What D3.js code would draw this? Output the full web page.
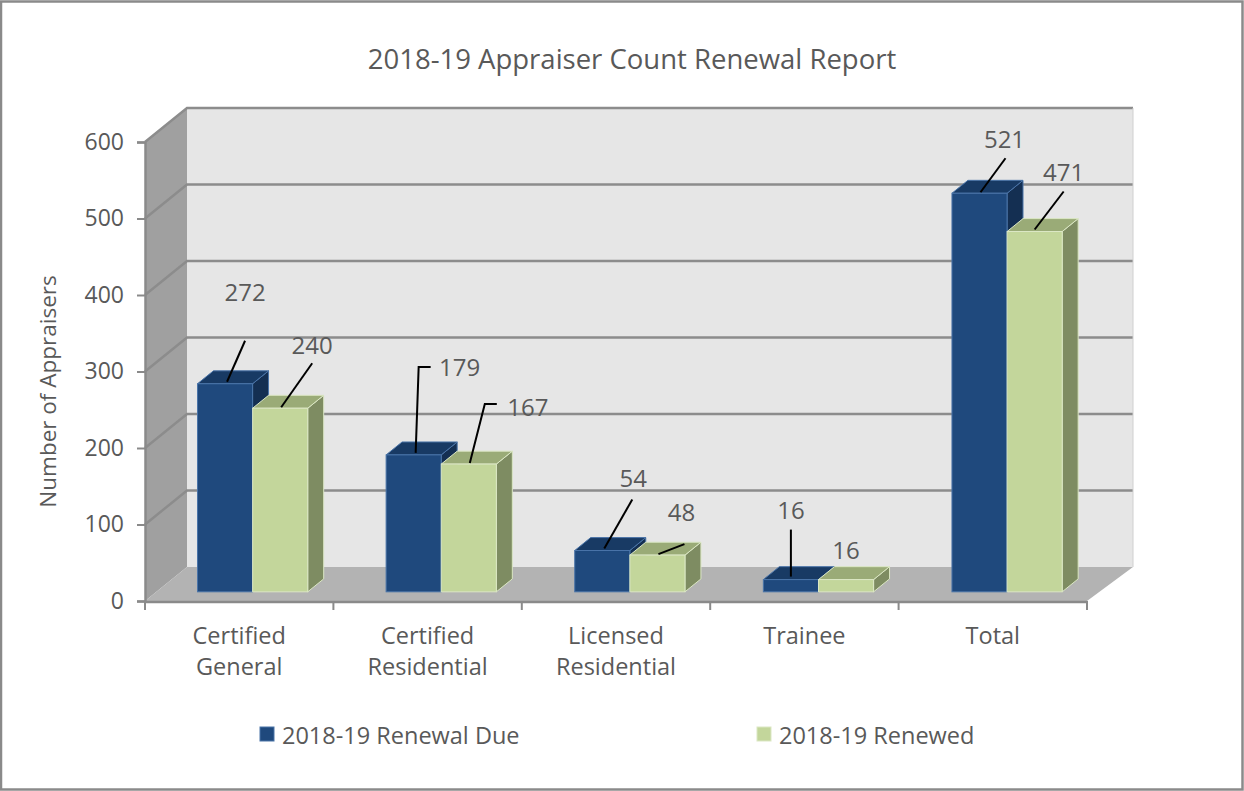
<!DOCTYPE html>
<html>
<head>
<meta charset="utf-8">
<script src="https://cdn.jsdelivr.net/npm/d3@7"></script>
<style>
  body { margin: 0; background: #fff; }
  svg { display: block; font-family: "Open Sans", sans-serif; }
</style>
</head>
<body>
<div id="chart"></div>
<script>
// podaci
const categories = [["Certified", "General"], ["Certified", "Residential"], ["Licensed", "Residential"], ["Trainee"], ["Total"]];
const seriesNames = ["2018-19 Renewal Due", "2018-19 Renewed"];
const renewalDue = [272, 179, 54, 16, 521];
const renewed = [240, 167, 48, 16, 471];
const yTicks = [0, 100, 200, 300, 400, 500, 600];

// pomaci oznaka (tekst i linija) u odnosu na vrh stupca
const labelLayout = [
  [{ t: [20, -92], l: [[2, -2], [20, -43]] }, { t: [32, -64], l: [[1, -1], [32, -45]] }],
  [{ t: [46, -88], l: [[2, -2], [5, -88], [17, -88]] }, { t: [59, -58], l: [[1, -1], [16, -60], [28, -60]] }],
  [{ t: [31, -73], l: [[2, -2], [30, -51]] }, { t: [24, -44], l: [[1, -1], [27, -11]] }],
  [{ t: [0, -70], l: [[0, -3], [0, -50]] }, { t: [0, -30], l: null }],
  [{ t: [25, -55], l: [[1, -1], [26, -35]] }, { t: [29, -60], l: [[0, -2], [29, -40]] }]
];

const dim = { width: 1244, height: 791, left: 145, right: 1087, top: 142, bottom: 601 };
const depth = { dx: 42, dy: 34, f0: 0.27, f1: 0.65 };

const svg = d3.select("#chart").append("svg")
  .attr("width", dim.width).attr("height", dim.height);

// okvir
svg.append("rect").attr("x", 1).attr("y", 1.5)
  .attr("width", dim.width - 2.5).attr("height", dim.height - 3)
  .attr("fill", "#fff").attr("stroke", "#8a8a8a").attr("stroke-width", 2.5);

const y = d3.scaleLinear().domain([0, 600]).range([dim.bottom, dim.top]);
const x0 = d3.scaleBand().domain(d3.range(categories.length)).range([dim.left, dim.right]);
const x1 = d3.scaleBand().domain([0, 1]).range([2, x0.bandwidth() + 2]).paddingOuter(0.71);

// dubinski pomak
const shiftX = (xf, f) => f * (depth.dx + 4 * (xf - dim.left) / (dim.right - dim.left));
const P = (xf, yf, f) => [xf + shiftX(xf, f), yf - f * depth.dy];
const poly = pts => pts.map(p => p.join(",")).join(" ");

// zidovi
svg.append("polygon")
  .attr("points", poly([P(dim.left, y(600), 1), P(dim.right, y(600), 1), P(dim.right, y(0), 1), P(dim.left, y(0), 1)]))
  .attr("fill", "#e6e6e6");
svg.append("polygon")
  .attr("points", poly([[dim.left, y(600)], P(dim.left, y(600), 1), P(dim.left, y(0), 1), [dim.left, y(0)]]))
  .attr("fill", "#a0a0a0");
svg.append("polygon")
  .attr("points", poly([[dim.left, y(0)], [dim.right, y(0)], P(dim.right, y(0), 1), P(dim.left, y(0), 1)]))
  .attr("fill", "#b3b3b3");

// mreza
yTicks.filter(t => t > 0).forEach(t => {
  const a = [dim.left, y(t)], b = P(dim.left, y(t), 1), c = P(dim.right, y(t), 1);
  svg.append("polyline").attr("points", poly([a, b, c]))
    .attr("fill", "none").attr("stroke", "#8c8c8c").attr("stroke-width", 2.5);
});
svg.append("line")
  .attr("x1", P(dim.right, y(600), 1)[0]).attr("y1", P(dim.right, y(600), 1)[1])
  .attr("x2", P(dim.right, y(0), 1)[0]).attr("y2", P(dim.right, y(0), 1)[1])
  .attr("stroke", "#d0d0d0").attr("stroke-width", 1);

// osi
const yAxis = svg.append("g")
  .attr("transform", `translate(${dim.left},0)`)
  .call(d3.axisLeft(y).tickValues(yTicks).tickSize(8).tickPadding(13));
yAxis.select(".domain").attr("stroke", "#8a8a8a").attr("stroke-width", 2.5);
yAxis.selectAll(".tick line").attr("stroke", "#8a8a8a").attr("stroke-width", 2);
yAxis.selectAll(".tick text").attr("fill", "#595959").style("font-size", "23px")
  .attr("font-family", "Open Sans, sans-serif");

svg.append("line")
  .attr("x1", dim.left).attr("x2", dim.right).attr("y1", y(0) + 1).attr("y2", y(0) + 1)
  .attr("stroke", "#8a8a8a").attr("stroke-width", 2.5);
d3.range(categories.length + 1).forEach(i => {
  const xx = dim.left + i * x0.step();
  svg.append("line").attr("x1", xx).attr("x2", xx).attr("y1", y(0)).attr("y2", y(0) + 9)
    .attr("stroke", "#8a8a8a").attr("stroke-width", 2);
});

const catLabels = svg.append("g").selectAll("text").data(categories).join("text")
  .attr("x", (d, i) => x0(i) + x0.bandwidth() / 2)
  .attr("y", 644)
  .attr("text-anchor", "middle")
  .attr("fill", "#595959").style("font-size", "23.5px");
catLabels.selectAll("tspan").data(d => d).join("tspan")
  .attr("x", function () { return d3.select(this.parentNode).attr("x"); })
  .attr("dy", (d, i) => i === 0 ? 0 : 31)
  .text(d => d);

// stupci
const colors = [
  { front: "#1f497d", top: "#183a64", side: "#142f52", stroke: "#4a74a8" },
  { front: "#c3d69b", top: "#9aab77", side: "#7e8c62", stroke: "#dbe7c4" }
];
const ddx = (depth.f1 - depth.f0) * depth.dx;
const ddy = (depth.f1 - depth.f0) * depth.dy;
const labelsG = svg.append("g");

categories.forEach((c, i) => {
  [renewalDue[i], renewed[i]].forEach((v, j) => {
    const xfl = x0(i) + x1(j);
    const [xl, yt] = P(xfl, y(v), depth.f0);
    const [, yb] = P(xfl, y(0), depth.f0);
    const xr = xl + x1.bandwidth();
    const col = colors[j];
    const g = svg.append("g");
    g.append("polygon")
      .attr("points", poly([[xr, yt], [xr + ddx, yt - ddy], [xr + ddx, yb - ddy], [xr, yb]]))
      .attr("fill", col.side).attr("stroke", col.stroke).attr("stroke-width", 1);
    g.append("polygon")
      .attr("points", poly([[xl, yt], [xr, yt], [xr + ddx, yt - ddy], [xl + ddx, yt - ddy]]))
      .attr("fill", col.top).attr("stroke", col.stroke).attr("stroke-width", 1);
    g.append("rect")
      .attr("x", xl).attr("y", yt).attr("width", x1.bandwidth()).attr("height", yb - yt)
      .attr("fill", col.front).attr("stroke", col.stroke).attr("stroke-width", 1);

    // oznake
    const ax = (xl + xr) / 2, ay = yt;
    const lay = labelLayout[i][j];
    if (lay.l) {
      labelsG.append("polyline")
        .attr("points", poly(lay.l.map(p => [ax + p[0], ay + p[1]])))
        .attr("fill", "none").attr("stroke", "#000").attr("stroke-width", 2);
    }
    labelsG.append("text")
      .attr("x", ax + lay.t[0]).attr("y", ay + lay.t[1])
      .attr("text-anchor", "middle").attr("dominant-baseline", "central")
      .attr("fill", "#595959").style("font-size", "24px")
      .text(v);
  });
});
labelsG.raise();

// naslovi
svg.append("text")
  .attr("x", 632).attr("y", 58)
  .attr("text-anchor", "middle").attr("dominant-baseline", "central")
  .attr("fill", "#595959").style("font-size", "27.5px")
  .text("2018-19 Appraiser Count Renewal Report");

svg.append("text")
  .attr("transform", `translate(47,${(dim.top + dim.bottom) / 2 + 20}) rotate(-90)`)
  .attr("text-anchor", "middle").attr("dominant-baseline", "central")
  .attr("fill", "#595959").style("font-size", "22.5px")
  .text("Number of Appraisers");

// legenda
const legendX = [260, 757];
seriesNames.forEach((s, j) => {
  svg.append("rect").attr("x", legendX[j]).attr("y", 727).attr("width", 14).attr("height", 14)
    .attr("fill", colors[j].front).attr("stroke", colors[j].stroke).attr("stroke-width", 1);
  svg.append("text").attr("x", legendX[j] + 22).attr("y", 735)
    .attr("dominant-baseline", "central")
    .attr("fill", "#595959").style("font-size", "23.5px")
    .text(s);
});
</script>
</body>
</html>
